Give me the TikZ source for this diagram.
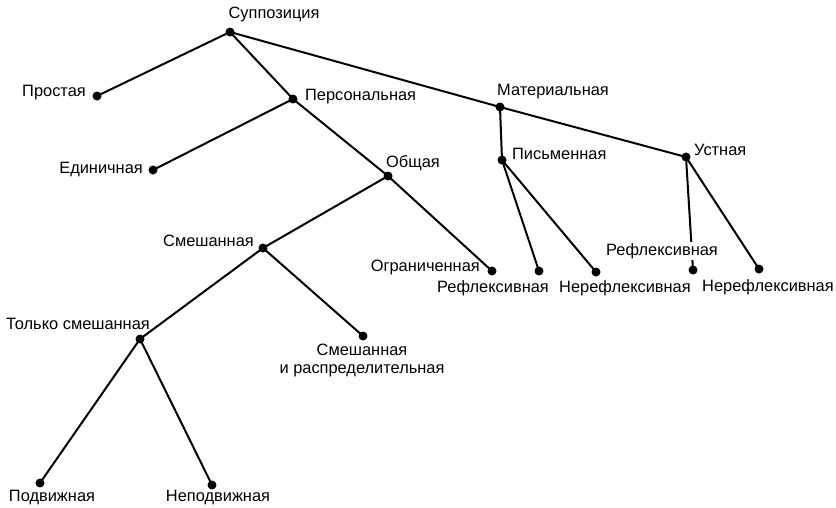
\documentclass[tikz,border=0pt]{standalone}
\usepackage{fontspec}
\setmainfont{Liberation Sans}
\begin{document}
\begin{tikzpicture}[x=1pt,y=-1pt,
  dot/.style={circle,fill=black,inner sep=0pt,minimum size=9pt},
  lbl/.style={inner sep=1pt,font=\fontsize{16.4}{18}\selectfont},
  edge/.style={line width=2pt}]
\useasboundingbox (0,0) rectangle (836,507);
% dots
\node[dot] (sup) at (230,32) {};
\node[dot] (pro) at (97,96) {};
\node[dot] (per) at (293,99) {};
\node[dot] (edi) at (153,170) {};
\node[dot] (obs) at (388,176) {};
\node[dot] (mat) at (500,107) {};
\node[dot] (pis) at (502,160) {};
\node[dot] (ust) at (686,157) {};
\node[dot] (sme) at (263,248) {};
\node[dot] (ogr) at (492,271) {};
\node[dot] (ref1) at (539,271) {};
\node[dot] (ner1) at (596,272) {};
\node[dot] (ref2) at (693,270) {};
\node[dot] (ner2) at (759,269) {};
\node[dot] (tol) at (140,339) {};
\node[dot] (smr) at (363,336) {};
\node[dot] (pod) at (40,483) {};
\node[dot] (nep) at (212,485) {};
% edges
\draw[edge] (sup.center) -- (pro.center);
\draw[edge] (sup.center) -- (per.center);
\draw[edge] (sup.center) -- (mat.center);
\draw[edge] (per.center) -- (edi.center);
\draw[edge] (per.center) -- (obs.center);
\draw[edge] (obs.center) -- (sme.center);
\draw[edge] (obs.center) -- (ogr.center);
\draw[edge] (mat.center) -- (pis.center);
\draw[edge] (mat.center) -- (ust.center);
\draw[edge] (pis.center) -- (ref1.center);
\draw[edge] (pis.center) -- (ner1.center);
\draw[edge] (ust.center) -- (ref2.center);
\draw[edge] (ust.center) -- (ner2.center);
\draw[edge] (sme.center) -- (tol.center);
\draw[edge] (sme.center) -- (smr.center);
\draw[edge] (tol.center) -- (pod.center);
\draw[edge] (tol.center) -- (nep.center);
% labels
\node[lbl] (tsup) at (274,14) {Суппозиция};
\node[lbl,anchor=east] (tpro) at (87,93) {Простая};
\node[lbl,anchor=west] (tper) at (304,97) {Персональная};
\node[lbl,anchor=east] (tedi) at (144,169) {Единичная};
\node[lbl,anchor=west] (tobs) at (385,163) {Общая};
\node[lbl,anchor=west] (tmat) at (496,92) {Материальная};
\node[lbl,anchor=west] (tpis) at (511,154) {Письменная};
\node[lbl,anchor=west] (tust) at (693,150) {Устная};
\node[lbl,anchor=east] (tsme) at (255,241) {Смешанная};
\node[lbl,anchor=east] (togr) at (481,267) {Ограниченная};
\node[lbl] (tref1) at (493,288) {Рефлексивная};
\node[lbl] (tner1) at (625,288) {Нерефлексивная};
\node[lbl,fill=white] (tref2) at (662,251) {Рефлексивная};
\node[lbl] (tner2) at (768,287) {Нерефлексивная};
\node[lbl] (ttol) at (78,324) {Только смешанная};
\node[lbl,align=center] (tsmr) at (362,360) {Смешанная\\и распределительная};
\node[lbl] (tpod) at (52,497) {Подвижная};
\node[lbl] (tnep) at (218,497) {Неподвижная};
\end{tikzpicture}
\end{document}
